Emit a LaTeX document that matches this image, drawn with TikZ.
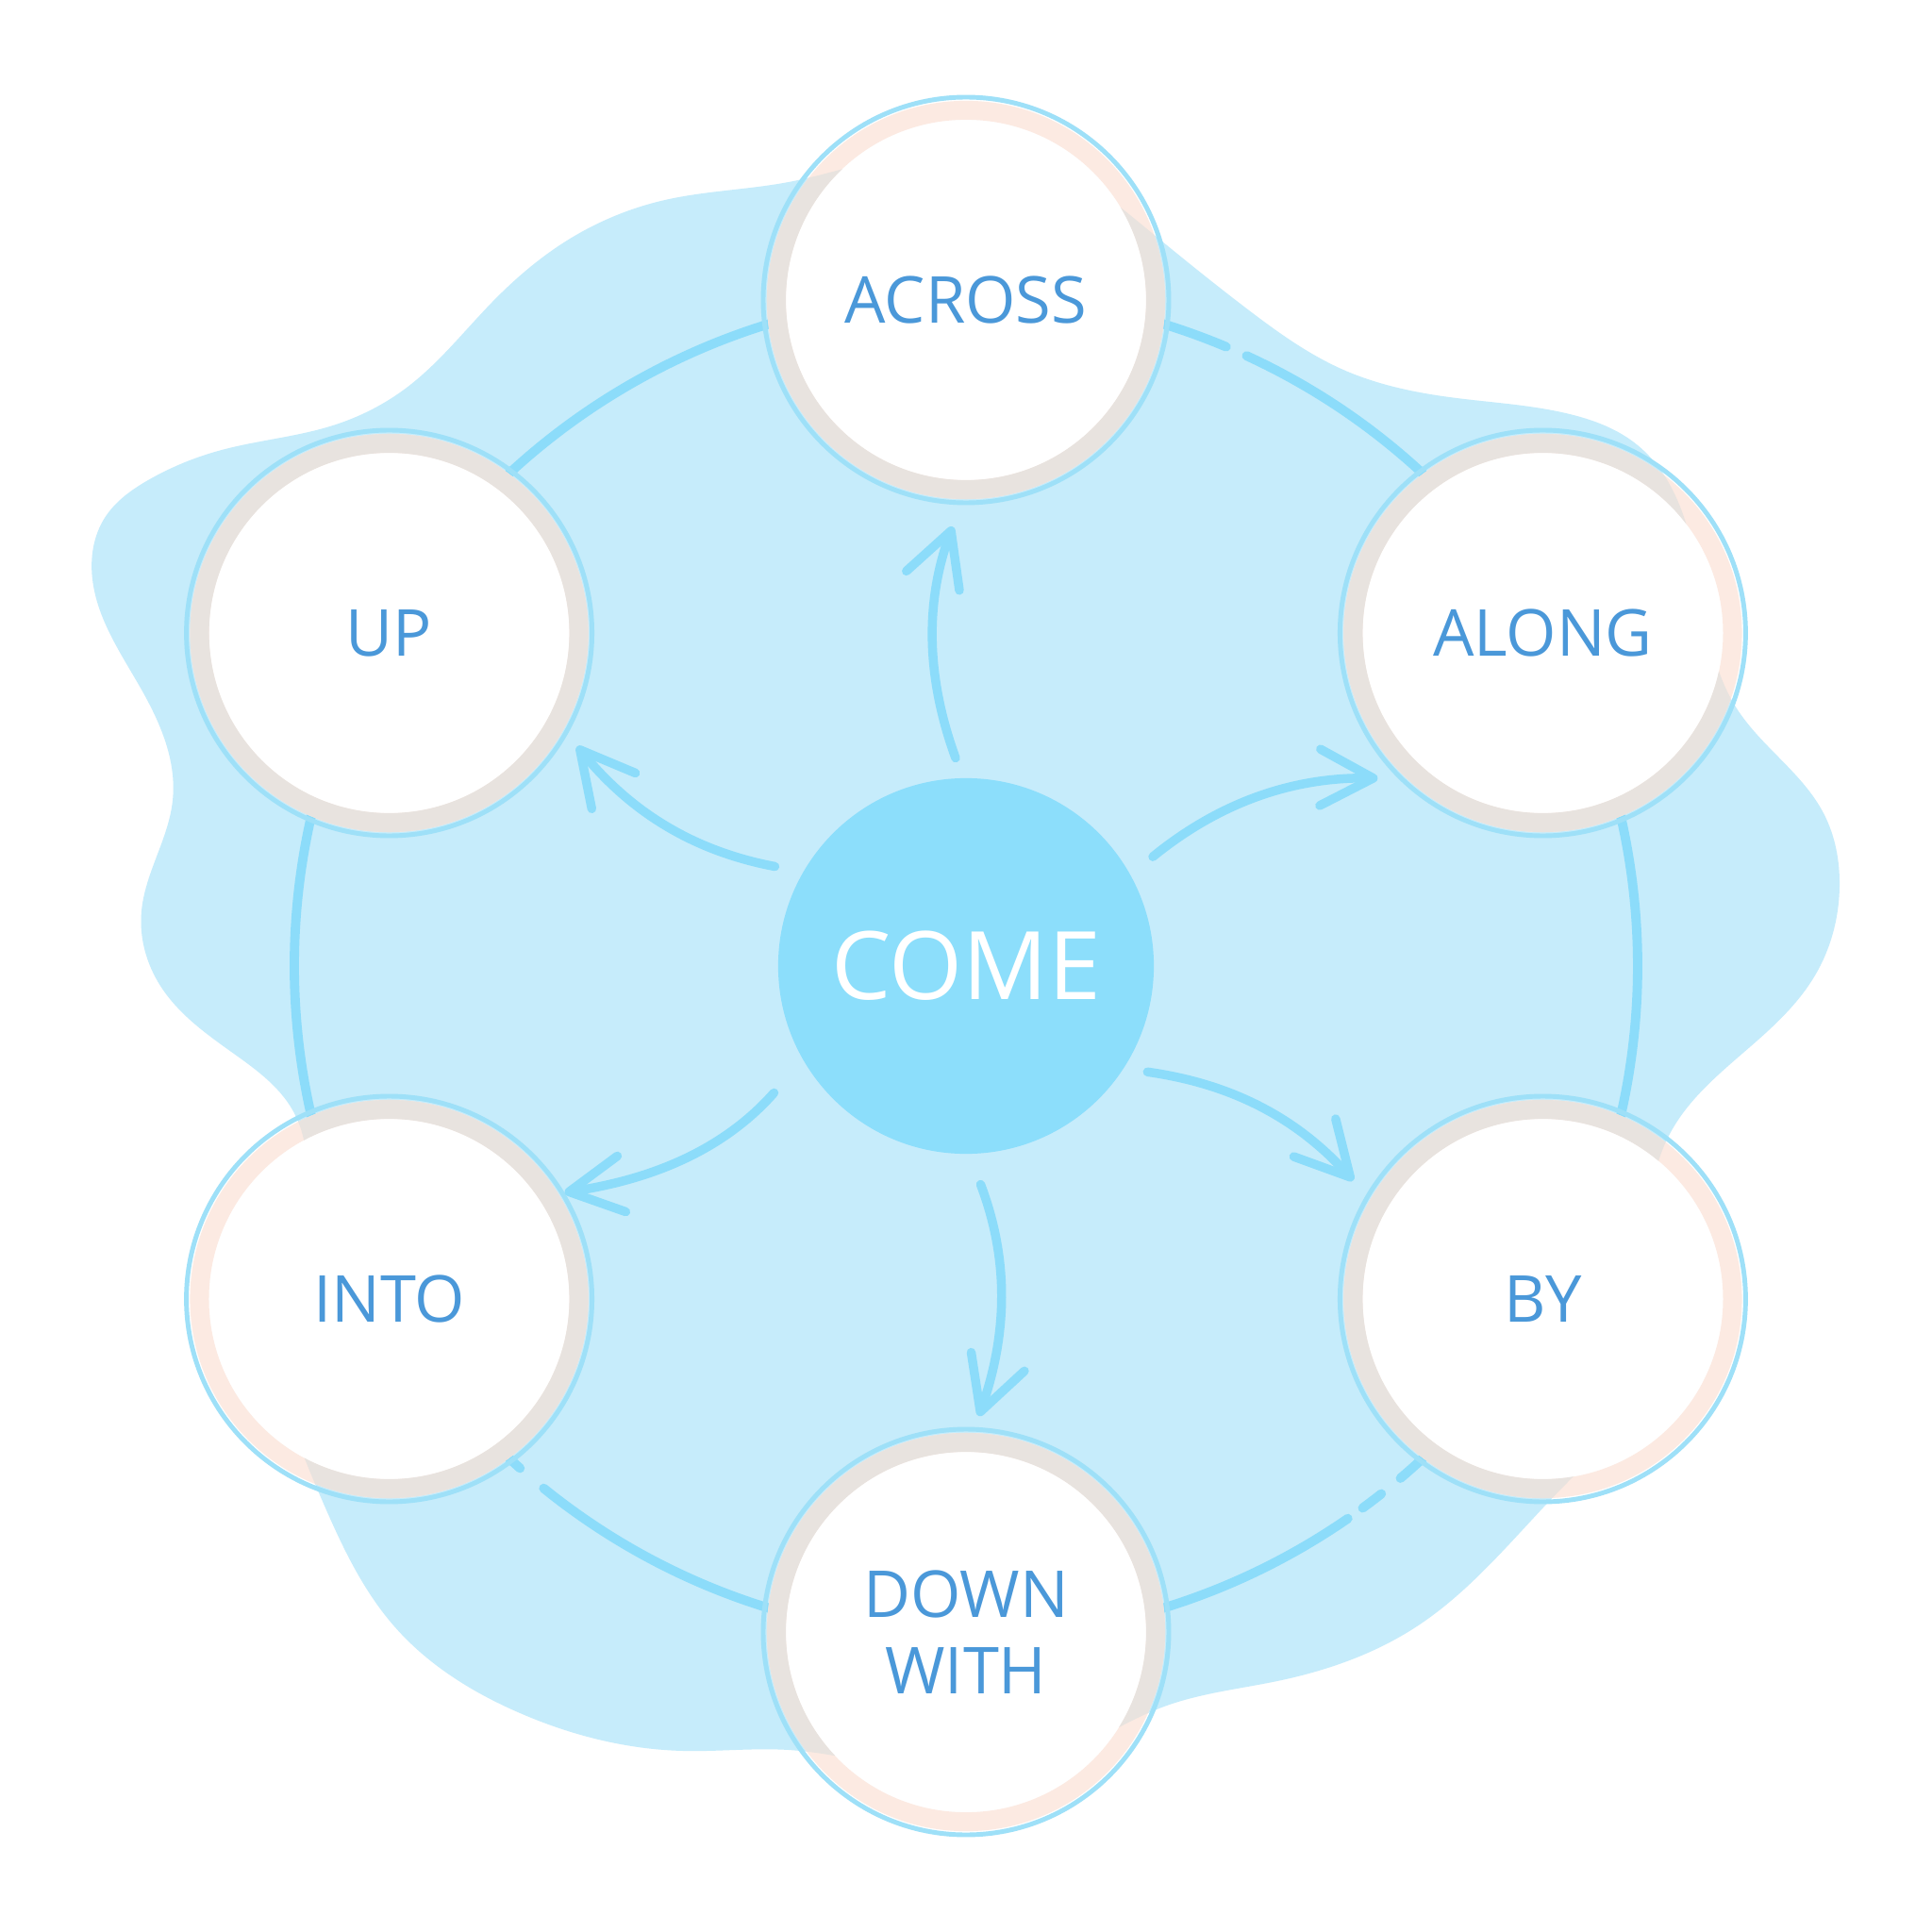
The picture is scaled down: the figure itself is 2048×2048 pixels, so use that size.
\documentclass[tikz,border=0pt]{standalone}
\usepackage{fontspec}
\setmainfont{Open Sans}
\usetikzlibrary{arrows.meta,hobby}

\definecolor{blobblue}{HTML}{C6ECFB}
\definecolor{lineblue}{HTML}{8CDCFA}
\definecolor{hubblue}{HTML}{8CDEFB}
\definecolor{rimblue}{HTML}{9EE0F8}
\definecolor{bandgray}{HTML}{E8E3DF}
\definecolor{bandpeach}{HTML}{FCEAE2}
\definecolor{wordblue}{HTML}{4A98D9}

% outline of the pale blob behind everything
\newcommand{\blobpath}{(-926,410) .. (-913,475) .. (-867,515) .. (-789,547)
  .. (-671,573) .. (-593,613) .. (-502,704) .. (-423,769) .. (-319,812)
  .. (-188,831) .. (-60,862) .. (90,850) .. (191,782) .. (300,695)
  .. (400,632) .. (520,602) .. (640,585) .. (712,552) .. (775,420)
  .. (817,273) .. (909,162) .. (926,84) .. (900,-10) .. (840,-78)
  .. (746,-178) .. (725,-300) .. (725,-430) .. (635,-550) .. (478,-700)
  .. (330,-758) .. (210,-785) .. (80,-845) .. (-80,-848) .. (-188,-831)
  .. (-300,-832) .. (-475,-791) .. (-606,-700) .. (-684,-563)
  .. (-730,-360) .. (-711,-158) .. (-776,-93) .. (-854,-21) .. (-874,58)
  .. (-841,175) .. (-874,293)}

\tikzset{
  hub/.style={circle, fill=hubblue, minimum size=3.98cm, inner sep=0pt,
    text=white, font=\fontsize{28.5}{34}\selectfont},
  petal/.style={circle, fill=white, draw=bandpeach, line width=5.7pt,
    minimum size=4.02cm, inner sep=0pt, align=center, text=wordblue,
    font=\fontsize{19.5}{23}\selectfont},
  flow/.style={draw=lineblue, line width=2.7pt, line cap=round,
    -{Straight Barb[length=16pt,width=17pt,round]}},
  track/.style={draw=lineblue, line width=2.8pt, line cap=round},
  blob/.style={use Hobby shortcut, closed=true}
}

\begin{document}
\begin{tikzpicture}[x=0.01cm,y=0.01cm]
  \fill[white] (-1024,-1024) rectangle (1024,1024);
  \fill[blobblue, blob] \blobpath;

  % ring behind the petals
  \draw[track] (67.2:712) arc[start angle=67.2, end angle=228.4, radius=712];
  \draw[track] (65.3:712) arc[start angle=65.3, end angle=-49.7, radius=712];
  \draw[track] (-51.8:712) arc[start angle=-51.8, end angle=-53.8, radius=712];
  \draw[track] (-55.35:712) arc[start angle=-55.35, end angle=-128.96, radius=712];

  \node[hub] (come) at (0,0) {COME};

  \foreach \name/\a/\txt in {across/90/ACROSS, along/30/ALONG, by/330/BY,
      down/270/{DOWN\\WITH}, into/210/INTO, up/150/UP}
    \node[petal] (\name) at (\a:706) {\txt};

  \begin{scope}
    \clip[blob] \blobpath;
    \foreach \name in {across,along,by,down,into,up}
      \draw[bandgray, line width=5.7pt] (\name) circle (201);
  \end{scope}
  \foreach \name in {across,along,by,down,into,up}
    \draw[rimblue, line width=1.4pt] (\name) circle (215);

  % arrows out of the hub
  \foreach \name/\a/\b/\s/\e in {across/91/269/0.22/0.31, along/29/227/0.30/0.31,
      by/327/150/0.25/0.27, down/271/88/0.34/0.19, into/210/32/0.46/0.07,
      up/150/331/0.30/0.23}
    \draw[flow, shorten <=\s cm, shorten >=\e cm] (come.\a) to[bend left=20] (\name.\b);

\end{tikzpicture}
\end{document}
